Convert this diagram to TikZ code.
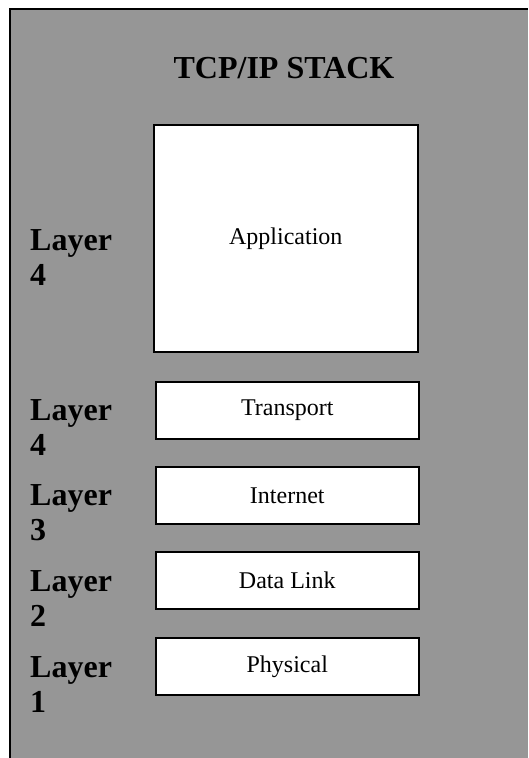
\documentclass[tikz,border=0pt]{standalone}
\usepackage{fontspec}
\setmainfont{Liberation Serif}
\usepackage{xcolor}
\usetikzlibrary{positioning, calc}

\definecolor{stackgray}{RGB}{150,150,150}

\begin{document}
\begin{tikzpicture}[
    x=1pt, y=-1pt,
    layerbox/.style={draw, line width=1.6pt, fill=white, inner sep=0pt,
        anchor=north west, minimum width=263pt, minimum height=57pt,
        font=\fontsize{24}{28}\selectfont},
    layerlbl/.style={anchor=base west, align=left, inner sep=0pt,
        font=\fontsize{32}{35}\selectfont\bfseries}
]

% ==========================================
% 1. Page frame and grey panel
% ==========================================
\useasboundingbox (0,0) rectangle (528,758);
\fill[stackgray] (10,9) rectangle (528,758);
\draw[line width=1.6pt] (10,758) -- (10,9) -- (528,9); % only left and top edges show

\node[anchor=base, inner sep=0pt, font=\fontsize{32}{35}\selectfont\bfseries]
    (title) at (284,78) {TCP/IP STACK};

% ==========================================
% 2. Stack boxes
% ==========================================
\node[layerbox, minimum width=264pt, minimum height=227pt] (app) at (153,124) {Application};
\node[layerbox] (transport) at (155,381) {Transport};
\node[layerbox] (internet)  at (155,466) {Internet};
\node[layerbox] (datalink)  at (155,551) {Data Link};
\node[layerbox] (physical)  at (155,637) {Physical};

% ==========================================
% 3. Layer numbers on the left
% ==========================================
% base anchor sits on the second line
\node[layerlbl] (lblApp)       at (30,285) {Layer\\4};
\node[layerlbl] (lblTransport) at (30,455) {Layer\\4};
\node[layerlbl] (lblInternet)  at (30,540) {Layer\\3};
\node[layerlbl] (lblDatalink)  at (30,626) {Layer\\2};
\node[layerlbl] (lblPhysical)  at (30,712) {Layer\\1};

\end{tikzpicture}
\end{document}
